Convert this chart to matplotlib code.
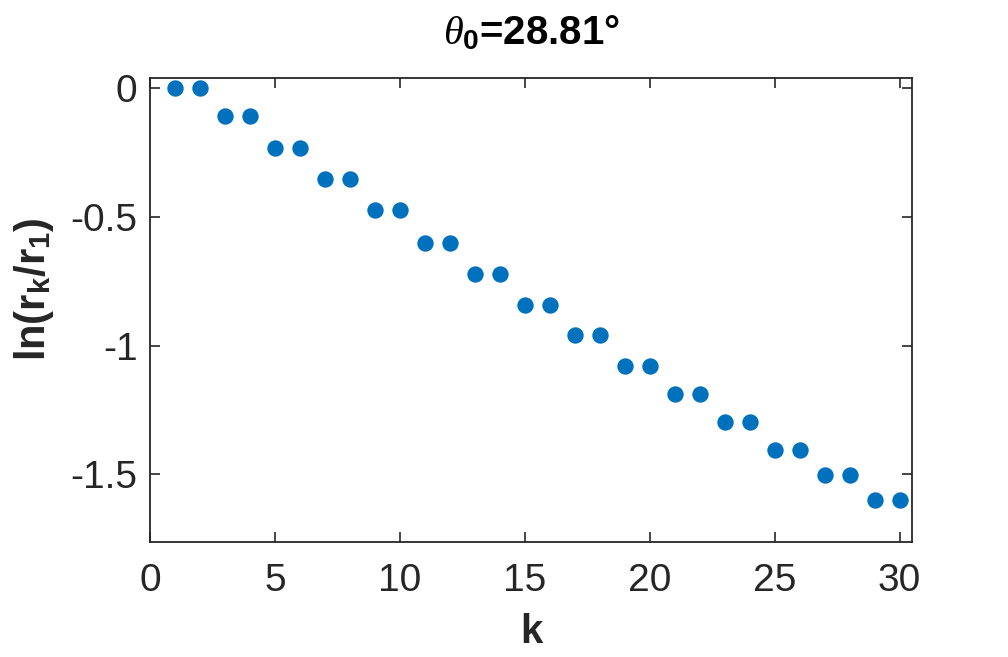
import matplotlib
matplotlib.use("Agg")
import matplotlib.pyplot as plt

k = list(range(1, 31))
ln_ratio = [0.0, 0.0, -0.110, -0.110, -0.233, -0.233, -0.353, -0.353,
            -0.474, -0.474, -0.602, -0.602, -0.722, -0.722, -0.842, -0.842,
            -0.960, -0.960, -1.079, -1.079, -1.188, -1.188, -1.297, -1.297,
            -1.407, -1.407, -1.504, -1.504, -1.601, -1.601]
xticks = [0, 5, 10, 15, 20, 25, 30]
yticks = [0, -0.5, -1, -1.5]
ytick_labels = ['0', '-0.5', '-1', '-1.5']

plt.rcParams['font.family'] = ['Liberation Sans', 'DejaVu Sans']
plt.rcParams['mathtext.fontset'] = 'custom'
plt.rcParams['mathtext.rm'] = 'Liberation Sans:bold'
plt.rcParams['mathtext.bf'] = 'Liberation Sans:bold'
plt.rcParams['mathtext.it'] = 'Liberation Serif:italic'

fig = plt.figure(figsize=(10.08, 6.57), dpi=100)
ax = fig.add_axes([150/1008, 1 - 542/657, (912-150)/1008, (542-77.5)/657])

ax.plot(k, ln_ratio, 'o', color='#0072BD', markersize=11.8, markeredgewidth=0)

ax.set_xlim(0, 30.5)
ax.set_ylim(-1.762, 0.04)
ax.set_xticks(xticks)
ax.set_yticks(yticks)
ax.set_yticklabels(ytick_labels)

axc = '#262626'
for s in ax.spines.values():
    s.set_color(axc)
    s.set_linewidth(1.3)
ax.tick_params(direction='in', length=7, width=1.2, colors=axc, labelsize=28,
               top=True, right=True)
ax.tick_params(axis='x', pad=15)
ax.tick_params(axis='y', pad=9)

ax.set_xlabel('k', fontsize=29, fontweight='bold', color=axc, labelpad=10)
ax.set_ylabel(r'ln(r$_{\rm k}$/r$_{\rm 1}$)', fontsize=30, fontweight='bold',
              color=axc)
ax.yaxis.set_label_coords(-0.124, 0.545)
ax.set_title(r'$\mathit{\theta}_{\rm 0}$=28.81°', fontsize=29, fontweight='bold',
             color='black', pad=24)

fig.savefig('out.png', dpi=100, facecolor='white')
